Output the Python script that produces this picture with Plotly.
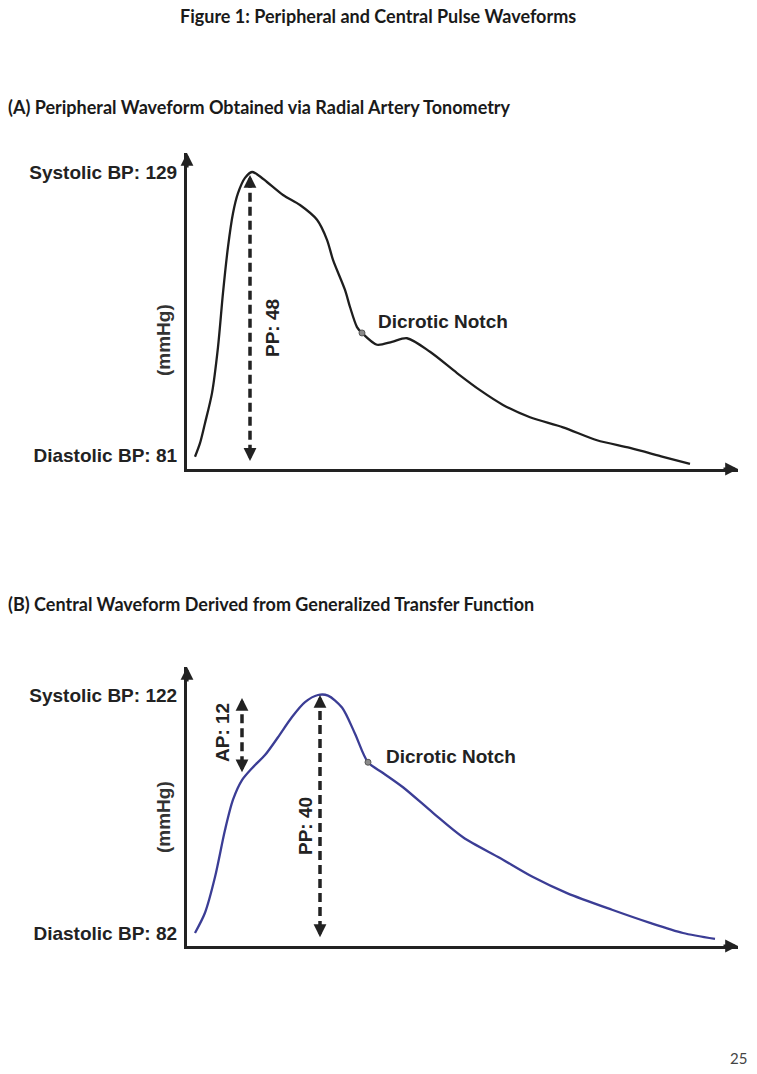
import plotly.graph_objects as go

# ---------------- data ----------------
# (A) peripheral (radial tonometry) waveform: time (a.u.) and pressure (mmHg)
t_a = [8, 13, 18, 25, 31, 36, 41, 46, 51, 58, 65, 71, 80, 96, 113, 130, 140, 146, 158, 163,
       170, 175, 190, 205, 220, 243, 270, 293, 316, 343, 376, 410, 443, 476, 503]
p_a = [80.7, 83.0, 86.4, 91.5, 99.3, 108.5, 116.3, 122.0, 125.4, 128.0, 129.0, 128.5, 127.3,
       125.1, 123.4, 120.9, 117.5, 114.1, 109.0, 106.1, 102.7, 101.7, 99.7, 100.2, 100.8,
       98.5, 94.9, 92.0, 89.5, 87.4, 85.7, 83.5, 82.2, 80.7, 79.5]
sbp_a, dbp_a, pp_a = 129, 81, 48
notch_t_a = 175

# (B) central waveform (generalized transfer function)
t_b = [8, 18, 28, 38, 46, 55, 65, 78, 91, 105, 118, 131, 141, 155, 168, 181, 196, 216, 246,
       276, 313, 346, 380, 425, 463, 496, 528]
p_b = [82.0, 85.4, 91.4, 99.3, 104.4, 107.7, 109.7, 111.9, 114.9, 118.3, 120.8, 122.0, 121.9,
       119.9, 115.5, 110.7, 108.9, 106.5, 102.2, 98.1, 94.6, 91.4, 88.7, 85.9, 83.7, 82.0, 81.0]
sbp_b, dbp_b, pp_b, ap_b = 122, 82, 40, 12
notch_t_b = 181
inflection_t_b = 55

# ---------------- layout helpers (pixel positions) ----------------
W, H = 757, 1074
def px(x):
    return x / W
def py(y):
    return 1 - y / H

def yrange(top_px, bot_px, v_hi, px_hi, v_lo, px_lo):
    k = (v_hi - v_lo) / (px_lo - px_hi)
    return [v_lo - (bot_px - px_lo) * k, v_hi + (px_hi - top_px) * k]

AX = '#222222'
LBL_FONT = dict(family='Liberation Sans, Arial', size=19, color='#222222')
TITLE_FONT = dict(family='Lato, Open Sans', size=18, color='#1a1a1a')

fig = go.Figure()

# waveforms
fig.add_trace(go.Scatter(x=t_a, y=p_a, mode='lines', xaxis='x', yaxis='y',
                         line=dict(color='#1e1e1e', width=2.3, shape='spline', smoothing=0.8),
                         hoverinfo='skip'))
fig.add_trace(go.Scatter(x=t_b, y=p_b, mode='lines', xaxis='x2', yaxis='y2',
                         line=dict(color='#3b3d95', width=2.3, shape='spline', smoothing=0.8),
                         hoverinfo='skip'))

# dicrotic notch markers
ia = t_a.index(notch_t_a)
ib = t_b.index(notch_t_b)
fig.add_trace(go.Scatter(x=[t_a[ia]], y=[p_a[ia]], mode='markers', xaxis='x', yaxis='y',
                         marker=dict(size=6, color='#8a8a8a', line=dict(width=1, color='#555')),
                         hoverinfo='skip'))
fig.add_trace(go.Scatter(x=[t_b[ib]], y=[p_b[ib]], mode='markers', xaxis='x2', yaxis='y2',
                         marker=dict(size=6, color='#8a8a8a', line=dict(width=1, color='#555')),
                         hoverinfo='skip'))

# dashed arrows
peak_ta = t_a[p_a.index(max(p_a))] - 2
peak_tb = t_b[p_b.index(max(p_b))] + 2
ib_inf = t_b.index(inflection_t_b)
dash_lines = [
    ('x', 'y', peak_ta, sbp_a - pp_a - 1, sbp_a - 0.5),
    ('x2', 'y2', peak_tb, sbp_b - pp_b - 0.7, sbp_b),
    ('x2', 'y2', t_b[ib_inf], sbp_b - ap_b - 1, sbp_b - 0.5),
]
annotations = []
for xr, yr, xv, y0, y1 in dash_lines:
    fig.add_trace(go.Scatter(x=[xv, xv], y=[y0 + 1.2, y1 - 1.2], mode='lines', xaxis=xr, yaxis=yr,
                             line=dict(color=AX, width=3.5, dash='9px,5px'), hoverinfo='skip'))
    for yv, ay in ((y1, 12), (y0, -12)):
        annotations.append(dict(x=xv, y=yv, xref=xr, yref=yr, ax=0, ay=ay, text='',
                                showarrow=True, arrowhead=2, arrowsize=0.8, arrowwidth=3.2,
                                arrowcolor=AX))

# axis arrowheads
for xr, yr in (('x', 'y'), ('x2', 'y2')):
    annotations.append(dict(x=1, y=0, xref=xr + ' domain', yref=yr + ' domain', ax=-16, ay=0,
                            text='', showarrow=True, arrowhead=2, arrowsize=0.8, arrowwidth=3.2,
                            arrowcolor=AX))
    annotations.append(dict(x=0, y=1, xref=xr + ' domain', yref=yr + ' domain', ax=0, ay=16,
                            text='', showarrow=True, arrowhead=2, arrowsize=0.8, arrowwidth=3.2,
                            arrowcolor=AX))

# text annotations
def txt(text, x, y, font, xanchor='center', angle=0):
    annotations.append(dict(text=text, x=px(x), y=py(y), xref='paper', yref='paper',
                            xanchor=xanchor, yanchor='middle', showarrow=False,
                            textangle=angle, font=font))

txt('<b>Figure 1: Peripheral and Central Pulse Waveforms</b>', 378, 16, TITLE_FONT)
txt('<b>(A) Peripheral Waveform Obtained via Radial Artery Tonometry</b>', 6, 107, TITLE_FONT, 'left')
txt('<b>(B) Central Waveform Derived from Generalized Transfer Function</b>', 6, 604, TITLE_FONT, 'left')
txt('25', 738, 1058, dict(family='Lato, Open Sans', size=15, color='#444444'))

txt('<b>(mmHg)</b>', 163, 340, dict(LBL_FONT, color='#333333'), angle=-90)
txt('<b>PP: %d</b>' % pp_a, 272, 328, LBL_FONT, angle=-90)
txt('<b>Dicrotic Notch</b>', 376, 321, LBL_FONT, 'left')

txt('<b>(mmHg)</b>', 163, 817, dict(LBL_FONT, color='#333333'), angle=-90)
txt('<b>AP: %d</b>' % ap_b, 222, 733, LBL_FONT, angle=-90)
txt('<b>PP: %d</b>' % pp_b, 305, 826, LBL_FONT, angle=-90)
txt('<b>Dicrotic Notch</b>', 384, 756, LBL_FONT, 'left')

xr_common = dict(showline=True, linewidth=3.2, linecolor=AX, showgrid=False, zeroline=False,
                 showticklabels=False, ticks='', range=[0, 551], fixedrange=True)
def yaxis_cfg(top, bot, sbp, sbp_px, dbp, dbp_px, xa):
    return dict(domain=[py(bot), py(top)], anchor=xa,
                range=yrange(top, bot, sbp, sbp_px, dbp, dbp_px),
                showline=True, linewidth=3.2, linecolor=AX, showgrid=False, zeroline=False,
                tickvals=[dbp, sbp],
                ticktext=['<b>Diastolic BP: %d</b>' % dbp, '<b>Systolic BP: %d</b>' % sbp],
                ticks='outside', ticklen=3, tickcolor='rgba(0,0,0,0)', tickfont=LBL_FONT,
                fixedrange=True)

fig.update_layout(
    width=W, height=H, margin=dict(l=0, r=0, t=0, b=0),
    paper_bgcolor='white', plot_bgcolor='white', showlegend=False,
    xaxis=dict(xr_common, domain=[px(187), px(738)], anchor='y'),
    yaxis=yaxis_cfg(153, 469, sbp_a, 172, dbp_a, 455, 'x'),
    xaxis2=dict(xr_common, domain=[px(187), px(738)], anchor='y2'),
    yaxis2=yaxis_cfg(667, 946, sbp_b, 695, dbp_b, 933, 'x2'),
    annotations=annotations,
)

fig.write_html('out.html', config={'displayModeBar': False},
               post_script="document.body.style.margin='0px';document.body.style.overflow='hidden';")
